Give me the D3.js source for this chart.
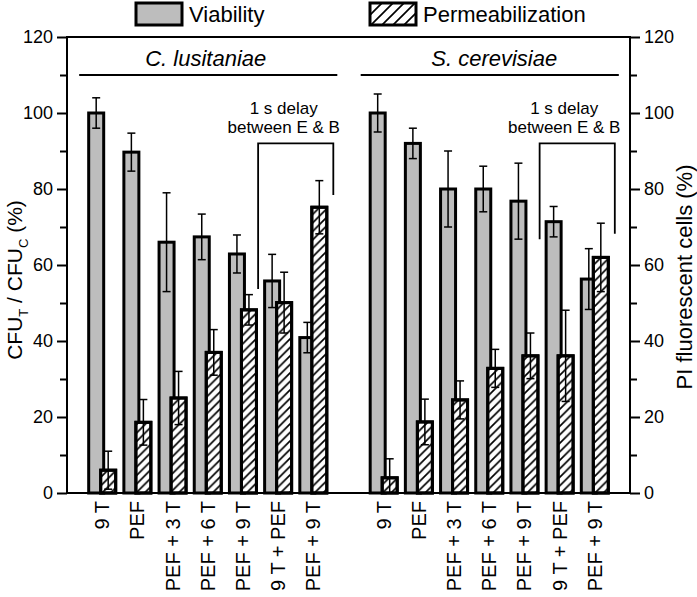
<!DOCTYPE html>
<html>
<head>
<meta charset="utf-8">
<script src="https://cdn.jsdelivr.net/npm/d3@7"></script>
<style>
  body { margin: 0; background: #fff; }
  svg text { font-family: "Liberation Sans", Arial, sans-serif; fill: #000; }
</style>
</head>
<body>
<svg width="697" height="597"></svg>
<script>
// data
var species = ["C. lusitaniae", "S. cerevisiae"];
var categories = ["9 T", "PEF", "PEF + 3 T", "PEF + 6 T", "PEF + 9 T", "9 T + PEF", "PEF + 9 T"];
var viabC = [100, 89.7, 66, 67.4, 62.9, 55.8, 40.9];
var viabCErr = [4, 5, 13, 6, 5, 7, 4];
var permC = [6, 18.6, 25, 37, 48.2, 50.1, 75.2];
var permCErr = [5, 6, 7, 6, 4, 8, 7];
var viabS = [100, 92, 80, 80, 76.8, 71.4, 56.3];
var viabSErr = [5, 4, 10, 6, 10, 4, 8];
var permS = [4, 18.7, 24.5, 32.8, 36.1, 36.1, 62];
var permSErr = [5, 6, 5, 5, 6, 12, 9];
var yTicks = [0, 20, 40, 60, 80, 100, 120];
var legendLabels = ["Viability", "Permeabilization"];
var noteLines = ["1 s delay", "between E & B"];

// options
var margin = {top: 37, right: 67, bottom: 104, left: 67};
var width = 697;
var height = 597;
var barW = 15;
var barOff = 6;
var gray = "#bdbdbd";

var svg = d3.select("svg");

// keys: group 0 slots, a gap, group 1 slots
var keys = [];
categories.forEach(function(c, i){ keys.push("C" + i); });
keys.push("gap");
categories.forEach(function(c, i){ keys.push("S" + i); });

var rows = [];
categories.forEach(function(c, i){
  rows.push({key: "C" + i, label: c, v: viabC[i], ve: viabCErr[i], p: permC[i], pe: permCErr[i]});
});
categories.forEach(function(c, i){
  rows.push({key: "S" + i, label: c, v: viabS[i], ve: viabSErr[i], p: permS[i], pe: permSErr[i]});
});

// scales
var xScale = d3.scaleBand()
  .domain(keys)
  .range([margin.left, width - margin.right])
  .paddingInner(0)
  .paddingOuter(0.5);
var cx = function(k){ return xScale(k) + xScale.bandwidth() / 2; };
var yScale = d3.scaleLinear()
  .domain([0, 120])
  .range([height - margin.bottom, margin.top]);
var y0 = yScale(0);

// hatch patterns
var defs = svg.append("defs");
function hatch(id, s){
  defs.append("pattern")
    .attr("id", id)
    .attr("patternUnits", "userSpaceOnUse")
    .attr("width", s).attr("height", s)
    .append("path")
    .attr("d", "M" + (-s/4) + "," + (s/4) + "l" + (s/2) + "," + (-s/2) +
               "M0," + s + "l" + s + "," + (-s) +
               "M" + (s*3/4) + "," + (s*5/4) + "l" + (s/2) + "," + (-s/2))
    .attr("stroke", "#000")
    .attr("stroke-width", 1.7);
}
hatch("hatch", 8.5);
hatch("hatchLeg", 11);

// bars: viability (gray) first, permeabilization on top
var g = svg.append("g");
g.selectAll("rect.viab")
  .data(rows)
  .enter().append("rect")
  .attr("class", "viab")
  .attr("x", function(d){ return cx(d.key) - barOff - barW / 2; })
  .attr("y", function(d){ return yScale(d.v); })
  .attr("width", barW)
  .attr("height", function(d){ return y0 - yScale(d.v); })
  .attr("fill", gray)
  .attr("stroke", "#000")
  .attr("stroke-width", 3);

// viability error bars
function errBars(sel, off, val, err){
  var e = sel.append("g");
  rows.forEach(function(d){
    var x = cx(d.key) + off;
    var hi = yScale(d[val] + d[err]);
    var lo = yScale(Math.max(0, d[val] - d[err]));
    e.append("line").attr("x1", x).attr("x2", x).attr("y1", hi).attr("y2", lo);
    e.append("line").attr("x1", x - 4).attr("x2", x + 4).attr("y1", hi).attr("y2", hi);
    e.append("line").attr("x1", x - 4).attr("x2", x + 4).attr("y1", lo).attr("y2", lo);
  });
  e.selectAll("line").attr("stroke", "#000").attr("stroke-width", 1.5);
}
errBars(g, -barOff, "v", "ve");

g.selectAll("rect.perm")
  .data(rows)
  .enter().append("rect")
  .attr("class", "perm")
  .attr("x", function(d){ return cx(d.key) + barOff - barW / 2; })
  .attr("y", function(d){ return yScale(d.p); })
  .attr("width", barW)
  .attr("height", function(d){ return y0 - yScale(d.p); })
  .attr("fill", "#fff")
  .attr("stroke", "#000")
  .attr("stroke-width", 3);
g.selectAll("rect.permh")
  .data(rows)
  .enter().append("rect")
  .attr("x", function(d){ return cx(d.key) + barOff - barW / 2; })
  .attr("y", function(d){ return yScale(d.p); })
  .attr("width", barW)
  .attr("height", function(d){ return y0 - yScale(d.p); })
  .attr("fill", "url(#hatch)")
  .attr("stroke", "#000")
  .attr("stroke-width", 3);
errBars(g, barOff, "p", "pe");

// axes
var yAxisL = d3.axisLeft(yScale).tickValues(yTicks).tickSize(10).tickPadding(4).tickFormat(d3.format("d"));
var yAxisR = d3.axisRight(yScale).tickValues(yTicks).tickSize(10).tickPadding(4).tickFormat(d3.format("d"));
var minorL = d3.axisLeft(yScale).tickValues(d3.range(10, 120, 20)).tickSize(7).tickFormat("");
var minorR = d3.axisRight(yScale).tickValues(d3.range(10, 120, 20)).tickSize(7).tickFormat("");

function styleAxis(a){
  a.select(".domain").remove();
  a.selectAll("line").attr("stroke", "#000").attr("stroke-width", 2);
  a.selectAll("text").style("font-size", "18px").attr("fill", "#000");
}
svg.append("g").attr("transform", "translate(" + [margin.left, 0] + ")").call(yAxisL).call(styleAxis);
svg.append("g").attr("transform", "translate(" + [margin.left, 0] + ")").call(minorL).call(styleAxis);
svg.append("g").attr("transform", "translate(" + [width - margin.right, 0] + ")").call(yAxisR).call(styleAxis);
svg.append("g").attr("transform", "translate(" + [width - margin.right, 0] + ")").call(minorR).call(styleAxis);

// frame
svg.append("rect")
  .attr("x", margin.left).attr("y", yScale(120))
  .attr("width", width - margin.right - margin.left)
  .attr("height", y0 - yScale(120))
  .attr("fill", "none").attr("stroke", "#000").attr("stroke-width", 2);

// x labels
svg.append("g").selectAll("text")
  .data(rows)
  .enter().append("text")
  .attr("transform", function(d){ return "translate(" + [cx(d.key) + 7, y0 + 8] + ") rotate(-90)"; })
  .attr("text-anchor", "end")
  .style("font-size", "20px")
  .text(function(d){ return d.label; });

// species titles and underlines
species.forEach(function(s, gi){
  var pre = gi === 0 ? "C" : "S";
  var x1 = cx(pre + "0") - 23, x2 = cx(pre + "6") + 24;
  svg.append("text")
    .attr("x", cx(pre + "3") - (gi === 0 ? 2 : -5)).attr("y", yScale(112.5))
    .attr("text-anchor", "middle")
    .style("font-size", "22px").style("font-style", "italic")
    .text(s);
  svg.append("line")
    .attr("x1", x1).attr("x2", x2)
    .attr("y1", yScale(110)).attr("y2", yScale(110))
    .attr("stroke", "#000").attr("stroke-width", 2);
});

// delay brackets
var brackets = [
  {a: "C5", b: "C6", l: 53.7, r: 78.4, tx: -12},
  {a: "S5", b: "S6", l: 66.8, r: 68.2, tx: -13}
];
brackets.forEach(function(br){
  var xa = cx(br.a) - 20, xb = cx(br.b) + 20, yt = yScale(92);
  svg.append("path")
    .attr("d", "M" + xa + "," + yScale(br.l) + "V" + yt + "H" + xb + "V" + yScale(br.r))
    .attr("fill", "none").attr("stroke", "#000").attr("stroke-width", 1.8);
  noteLines.forEach(function(t, i){
    svg.append("text")
      .attr("x", (xa + xb) / 2 + br.tx).attr("y", yt - 29 + i * 19)
      .attr("text-anchor", "middle")
      .style("font-size", "17px")
      .text(t);
  });
});

// axis titles
var lt = svg.append("text")
  .attr("transform", "translate(22,280) rotate(-90)")
  .attr("text-anchor", "middle")
  .style("font-size", "21px");
lt.append("tspan").text("CFU");
lt.append("tspan").attr("dy", 6).style("font-size", "13px").text("T");
lt.append("tspan").attr("dy", -6).text(" / CFU");
lt.append("tspan").attr("dy", 6).style("font-size", "13px").text("C");
lt.append("tspan").attr("dy", -6).text(" (%)");

svg.append("text")
  .attr("transform", "translate(692,277) rotate(-90)")
  .attr("text-anchor", "middle")
  .style("font-size", "22px")
  .text("PI fluorescent cells (%)");

// legend
var legX = [136, 370];
var leg = svg.append("g");
legendLabels.forEach(function(t, i){
  leg.append("rect")
    .attr("x", legX[i]).attr("y", 3)
    .attr("width", 46).attr("height", 22)
    .attr("fill", i === 0 ? gray : "url(#hatchLeg)")
    .attr("stroke", "#000").attr("stroke-width", 3);
  leg.append("text")
    .attr("x", legX[i] + 53).attr("y", 22)
    .style("font-size", "22px")
    .text(t);
});
</script>
</body>
</html>
